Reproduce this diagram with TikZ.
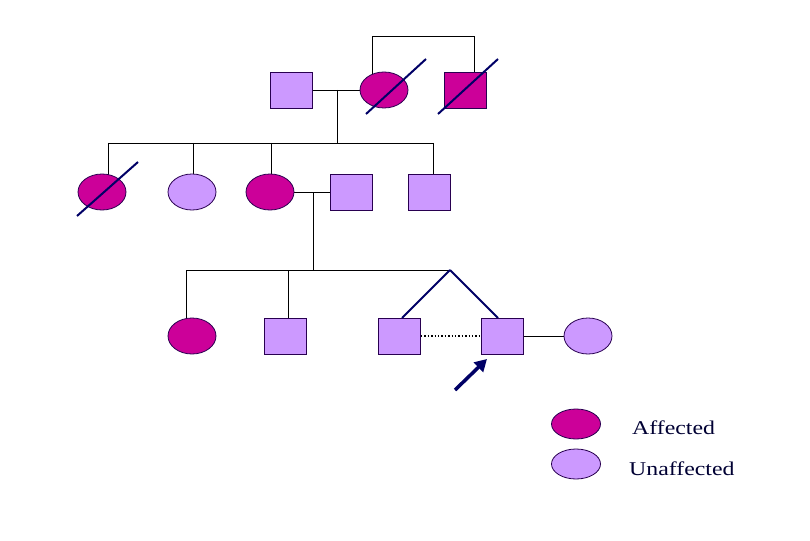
\documentclass[tikz,border=0pt]{standalone}
\usepackage{fontspec}
\newfontfamily\lab[FakeStretch=1.22]{Liberation Serif}
\usetikzlibrary{arrows.meta}
\pgfdeclarelayer{background}
\pgfsetlayers{background,main}
\definecolor{aff}{RGB}{204,0,153}
\definecolor{unaff}{RGB}{204,153,255}
\definecolor{edge}{RGB}{40,0,80}
\definecolor{navy}{RGB}{0,0,102}
\definecolor{txt}{RGB}{0,0,51}
\tikzset{
  male/.style={rectangle,draw=edge,line width=0.8pt,minimum width=42pt,minimum height=36pt,inner sep=0pt},
  female/.style={ellipse,draw=edge,line width=0.8pt,minimum width=48pt,minimum height=36pt,inner sep=0pt},
  affd/.style={fill=aff},
  unaffd/.style={fill=unaff},
  rel/.style={draw=black,line width=0.9pt},
  twin/.style={draw=navy,line width=1.8pt},
  dead/.style={draw=navy,line width=2pt},
  legendtext/.style={font=\lab\fontsize{19.5}{21}\selectfont,text=txt,anchor=west,inner sep=0pt}
}
\usetikzlibrary{shapes.geometric}
\begin{document}
\begin{tikzpicture}[x=1pt,y=-1pt]
\useasboundingbox (0,0) rectangle (810,540);
% Generation I
\node[male,unaffd] (g1m) at (291.5,90) {};
\node[female,affd] (g1f) at (384,90) {};
\node[male,affd] (g1b) at (465.5,90) {};
% Generation II
\node[female,affd] (c1) at (102,192) {};
\node[female,unaffd] (c2) at (192,192) {};
\node[female,affd] (c3) at (270,192) {};
\node[male,unaffd] (h3) at (351.5,192) {};
\node[male,unaffd] (c4) at (429.5,192) {};
% Generation III
\node[female,affd] (d1) at (192,336) {};
\node[male,unaffd] (d2) at (285.5,336) {};
\node[male,unaffd] (t1) at (399.5,336) {};
\node[male,unaffd] (t2) at (502,336) {};
\node[female,unaffd] (w) at (588,336) {};
% Legend
\node[female,affd,minimum width=49pt,minimum height=30pt] (la) at (576,424) {};
\node[female,unaffd,minimum width=49pt,minimum height=30pt] (lu) at (576,464) {};
\node[legendtext] (lat) at (632,428) {Affected};
\node[legendtext] (lut) at (629,469) {Unaffected};

% coordinates
\coordinate (sibA) at (372,36);
\coordinate (sibB) at (474,36);
\coordinate (m1) at (337,90);
\coordinate (s1) at (337,143);
\coordinate (s1l) at (108,143);
\coordinate (s1r) at (433,143);
\coordinate (s1b) at (193,143);
\coordinate (s1c) at (271,143);
\coordinate (m2) at (313,192);
\coordinate (s2) at (313,270);
\coordinate (s2l) at (186,270);
\coordinate (s2b) at (288,270);
\coordinate (apex) at (450,270);
\coordinate (tw1) at (402,318);
\coordinate (tw2) at (498,318);
\coordinate (arS) at (455,390);
\coordinate (arE) at (487,359);

\begin{pgfonlayer}{background}
  \draw[rel] (sibA |- g1f.center) -- (sibA) -- (sibB) -- (sibB |- g1b.north);
  \draw[rel] (g1m.east) -- (g1f.west);
  \draw[rel] (m1) -- (s1);
  \draw[rel] (s1l) -- (s1r);
  \draw[rel] (s1l) -- (s1l |- c1.center);
  \draw[rel] (s1b) -- (s1b |- c2.center);
  \draw[rel] (s1c) -- (s1c |- c3.center);
  \draw[rel] (s1r) -- (s1r |- c4.north);
  \draw[rel] (c3.east) -- (h3.west);
  \draw[rel] (m2) -- (s2);
  \draw[rel] (s2l) -- (apex);
  \draw[rel] (s2l) -- (s2l |- d1.center);
  \draw[rel] (s2b) -- (s2b |- d2.north);
  \draw[rel] (t2.east) -- (w.west);
\end{pgfonlayer}
\draw[twin] (apex) -- (tw1);
\draw[twin] (apex) -- (tw2);
\draw[line width=1.4pt,dotted,draw=black] (t1.east) -- (t2.west);
% deceased slashes
\draw[dead] (366,114) -- (426,59);
\draw[dead] (438,114) -- (498,59);
\draw[dead] (77,216) -- (138,162);
% proband arrow
\draw[navy,line width=3.5pt,-{Triangle[length=12pt,width=13pt]}] (arS) -- (arE);
\end{tikzpicture}
\end{document}
